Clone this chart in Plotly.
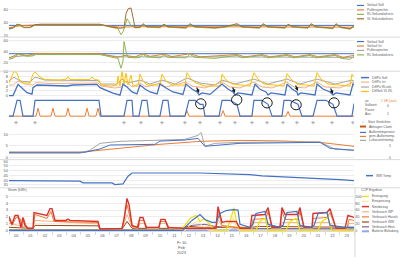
import plotly.graph_objects as go

# ======================= DATA (hours of the day, values) =======================
# Panel 1 - temperatures
p1_soll_h = [0, 24]
p1_soll = [35.9, 35.9]
p1_puffer_h = [0, 0.77, 1.81, 6.33, 7.72, 8.77, 13.29, 17.43, 21.63, 24.0]
p1_puffer = [32.3, 35.4, 36.6, 36.6, 33.1, 33.8, 33.8, 33.5, 33.1, 33.1]
p1_rl_h = [0, 0.28, 0.56, 0.77, 1.04, 1.46, 1.81, 2.16, 6.33, 7.03,
           7.58, 7.79, 7.93, 8.07, 8.21, 8.35, 8.49, 8.77, 9.11, 9.32,
           9.60, 10.50, 10.78, 11.06, 12.31, 12.59, 12.94, 14.33, 15.03, 15.86,
           16.21, 17.43, 17.67, 18.02, 19.20, 19.41, 19.76, 20.80, 21.01, 21.36,
           22.54, 22.75, 23.10, 23.72, 24.0]
p1_rl = [30.0, 31.5, 36.2, 35.4, 32.3, 32.3, 36.2, 36.9, 36.9, 33.1,
         30.8, 21.5, 26.2, 33.8, 46.2, 41.5, 35.4, 32.3, 32.3, 36.9,
         33.1, 32.3, 36.9, 33.1, 31.5, 36.9, 33.1, 31.5, 33.1, 36.9,
         33.1, 31.5, 36.9, 33.1, 31.5, 36.9, 33.1, 31.5, 36.9, 33.1,
         30.8, 36.9, 32.3, 30.0, 33.8]
p1_vl_h = [0, 0.28, 0.56, 0.77, 1.04, 1.46, 1.81, 2.16, 6.33, 7.03,
           7.72, 8.0, 8.14, 8.28, 8.49, 8.63, 8.77, 9.11, 9.32, 9.60,
           10.50, 10.78, 11.06, 12.31, 12.59, 12.94, 14.33, 15.03, 15.86, 16.21,
           17.43, 17.67, 18.02, 19.20, 19.41, 19.76, 20.80, 21.01, 21.36, 22.54,
           22.75, 23.10, 23.72, 24.0]
p1_vl = [30.8, 32.3, 37.7, 36.9, 33.1, 33.1, 36.9, 37.7, 37.7, 33.8,
         31.5, 32.3, 53.8, 61.5, 63.1, 44.6, 32.3, 33.1, 38.5, 33.8,
         33.1, 37.7, 33.8, 32.3, 38.5, 33.8, 32.3, 33.8, 38.5, 33.8,
         32.3, 38.5, 33.8, 32.3, 37.7, 33.8, 32.3, 38.5, 33.8, 31.5,
         38.5, 33.1, 30.8, 35.4]

# Panel 2 - temperatures
p2_soll_h = [0, 24]
p2_soll = [35.8, 35.8]
p2_ist_h = [0, 0.63, 1.25, 1.88, 6.33, 7.58, 8.07, 8.77, 9.32, 9.81,
            10.78, 11.34, 12.59, 13.29, 15.86, 16.42, 17.60, 18.16, 19.34, 19.90,
            20.94, 21.50, 22.68, 23.23, 24.0]
p2_ist = [27.3, 35.5, 32.7, 36.4, 35.8, 29.1, 32.7, 30.0, 35.8, 30.9,
          34.9, 30.5, 35.8, 30.0, 34.2, 30.0, 34.2, 30.0, 34.2, 30.0,
          34.2, 30.0, 34.2, 29.1, 32.7]
p2_puffer_h = [0, 1.88, 6.33, 7.72, 13.29, 24.0]
p2_puffer = [29.1, 34.2, 34.2, 30.0, 30.0, 29.1]
p2_rl_h = [0, 0.28, 0.63, 0.90, 1.25, 1.67, 1.88, 2.50, 6.33, 7.03,
           7.58, 7.79, 7.93, 8.0, 8.14, 8.28, 8.77, 9.11, 9.32, 9.60,
           10.50, 10.78, 11.06, 12.31, 12.59, 12.94, 14.33, 15.86, 16.21, 17.60,
           18.02, 19.34, 19.76, 20.94, 21.36, 22.68, 23.10, 23.72, 24.0]
p2_rl = [25.5, 27.3, 34.5, 32.7, 30.9, 31.8, 35.1, 34.5, 34.5, 30.0,
         27.3, 9.1, 21.8, 58.2, 40.0, 29.1, 28.2, 29.1, 34.5, 30.0,
         28.2, 33.6, 29.1, 28.2, 34.5, 29.1, 27.3, 32.7, 28.2, 32.7,
         28.2, 32.7, 28.2, 32.7, 28.2, 32.7, 27.3, 25.5, 30.9]

# Panel 3 - differences
p3_soll_h = [0, 0.28, 0.63, 0.90, 1.25, 1.60, 1.67, 1.95, 2.85, 4.03,
             4.45, 5.63, 6.12, 6.33, 6.82, 7.23, 7.72, 7.93, 8.21, 8.56,
             8.90, 9.11, 9.46, 9.81, 10.30, 10.50, 10.92, 11.41, 12.10, 12.31,
             12.73, 13.08, 13.22, 13.43, 13.98, 14.82, 15.23, 15.58, 15.72, 15.93,
             16.90, 17.11, 17.43, 17.88, 18.02, 18.23, 19.20, 19.34, 19.69, 20.03,
             20.10, 20.31, 21.29, 21.43, 21.84, 22.33, 22.54, 22.75, 23.72, 23.93,
             24.0]
p3_soll = [0, 0, 4.75, 3.33, 1.25, 0.58, 3.33, 4.46, 4.33, 4.04,
           4.46, 4.46, 4.75, 3.33, 1.96, 1.0, 0.17, 4.88, 3.63, 1.54,
           0.71, 4.46, 2.79, 1.54, 0.71, 4.88, 3.21, 1.54, 0.5, 4.88,
           2.79, 1.54, 0.29, 1.13, 0.5, 4.88, 2.79, 1.54, 0.29, 1.13,
           0.29, 4.88, 2.79, 1.54, 0.29, 1.13, 0.29, 4.88, 2.79, 1.54,
           0.29, 1.13, 0.29, 4.88, 2.79, 1.54, 0.29, 1.13, 0.29, 4.88,
           4.46]
p3_ist_h = [0, 0.28, 0.63, 1.11, 1.67, 1.88, 2.85, 4.24, 6.19, 6.40,
            7.37, 7.86, 8.14, 8.56, 9.11, 9.53, 10.50, 10.92, 12.31, 12.73,
            13.63, 14.82, 15.37, 16.07, 17.04, 17.60, 18.30, 19.34, 19.83, 20.59,
            21.43, 21.98, 23.03, 23.93, 24.0]
p3_ist = [4.46, 4.46, 6.13, 4.88, 4.46, 5.5, 5.08, 5.08, 5.29, 4.04,
          3.21, 3.63, 6.13, 3.63, 5.29, 3.63, 5.29, 3.63, 5.71, 4.04,
          3.21, 5.71, 3.63, 3.21, 5.71, 3.63, 3.21, 5.71, 3.63, 3.21,
          5.71, 3.63, 3.21, 5.71, 5.29]
p3_rlsek_h = [0, 0.35, 0.77, 1.46, 1.81, 2.50, 6.19, 6.40, 7.51, 7.86,
              8.28, 9.11, 9.81, 10.64, 11.55, 12.38, 13.29, 14.33, 14.82, 15.72,
              17.04, 18.02, 19.34, 20.24, 21.43, 22.68, 23.86, 24.0]
p3_rlsek = [6.13, 7.79, 6.13, 5.71, 7.79, 6.54, 6.33, 4.88, 4.88, 6.96,
            5.29, 6.54, 4.88, 6.54, 4.88, 7.38, 5.29, 4.46, 6.54, 4.88,
            6.96, 4.88, 6.96, 4.88, 6.96, 4.88, 6.54, 6.13]
p3_sek_h = [0, 0.21, 0.35, 0.56, 0.70, 0.97, 1.46, 1.67, 1.81, 2.16,
            2.50, 3.55, 3.97, 4.10, 4.24, 5.63, 5.77, 5.98, 6.26, 6.40,
            7.03, 7.51, 7.58, 7.72, 7.86, 8.00, 8.14, 8.28, 8.49, 8.63,
            8.97, 9.11, 9.32, 9.60, 10.50, 10.64, 10.92, 11.34, 12.24, 12.38,
            12.66, 13.01, 13.63, 14.68, 14.82, 15.10, 15.51, 16.77, 17.04, 17.32,
            17.74, 19.13, 19.34, 19.62, 20.03, 21.22, 21.43, 21.70, 22.19, 23.72,
            23.86, 24.0]
p3_sek = [5.29, 8.21, 10.29, 9.46, 6.96, 5.29, 5.29, 9.04, 9.88, 7.79,
          6.75, 6.54, 6.96, 8.0, 6.75, 6.75, 7.79, 6.75, 6.54, 4.46,
          4.04, 4.46, 8.21, 4.04, 10.29, 4.88, 9.46, 4.46, 8.63, 4.04,
          4.04, 9.04, 6.13, 4.46, 4.46, 9.04, 6.13, 4.46, 4.46, 9.67,
          6.96, 5.29, 4.04, 4.04, 9.04, 6.54, 4.88, 4.04, 9.67, 6.96,
          4.88, 4.04, 9.25, 6.96, 4.88, 4.04, 9.67, 6.96, 4.88, 4.04,
          9.04, 7.79]

# Panel 3b - status signals
status_h = [0, 0.28, 0.56, 0.77, 0.97, 1.67, 1.81, 6.26, 6.40, 8.0,
            8.21, 8.56, 8.63, 9.04, 9.25, 9.60, 9.74, 10.50, 10.71, 11.06,
            11.20, 12.24, 12.52, 12.94, 13.29, 13.50, 13.63, 14.61, 14.82, 15.37,
            15.86, 16.07, 16.90, 17.04, 17.60, 18.02, 18.30, 18.99, 19.13, 19.55,
            20.10, 20.38, 21.15, 21.43, 22.05, 22.54, 22.82, 23.86, 24.0]
status_wp = [0, 0, 1, 1, 0, 0, 1, 1, 0, 0,
             1, 1, 0, 0, 1, 1, 0, 0, 1, 1,
             0, 0, 1, 1, 0.75, 0.75, 0, 0, 1, 1,
             0.75, 0, 0, 1, 1, 0.75, 0, 0, 1, 1,
             0.75, 0, 0, 1, 1, 0.75, 0, 0, 0.8]
abtau_h = [0, 1.88, 2.02, 2.16, 2.92, 3.06, 3.20, 3.96, 4.10, 4.24,
           5.29, 5.43, 5.57, 6.05, 6.19, 6.33, 12.24, 12.38, 12.52, 14.75,
           14.89, 15.03, 19.27, 19.41, 19.55, 24.0]
abtau = [0, 0, 0.5, 0, 0, 0.5, 0, 0, 0.5, 0,
         0, 0.5, 0, 0, 0.5, 0, 0, 0.35, 0, 0,
         0.35, 0, 0, 0.3, 0, 0]
circle_h = [13.34, 15.84, 17.95, 19.97, 22.61]
circle_v = [0.78, 1.03, 0.84, 0.72, 0.84]
arrow_h = [13.22, 15.72, 20.10, 22.54]
arrow_v = [1.13, 1.13, 1.96, 0.71]

# Panel 4 - outside temperatures
start_h = [0.49, 1.81, 8.0, 9.18, 10.64, 12.24, 13.29, 14.68, 15.72, 16.90,
           17.95, 19.06, 20.03, 21.15, 22.47, 23.93]
start_level = 15.2
gem_h = [0, 4.94, 7.72, 10.50, 13.29, 16.07, 18.85, 21.63, 24.0]
gem = [2.17, 2.17, 3.91, 5.65, 6.96, 7.39, 7.17, 6.52, 4.78]
aussen_h = [0, 5.29, 6.33, 7.03, 10.16, 10.50, 12.24, 13.15, 13.63, 14.33,
            16.07, 21.63, 22.33, 24.0]
aussen = [2.17, 2.17, 3.61, 5.35, 5.65, 7.09, 7.52, 8.26, 4.78, 5.22,
          6.09, 6.52, 3.91, 3.04]
luft_h = [0, 4.94, 5.63, 6.33, 7.72, 10.16, 12.24, 13.15, 13.36, 13.63,
          14.33, 16.07, 21.63, 22.68, 24.0]
luft = [1.74, 1.74, 3.04, 6.09, 6.96, 7.52, 7.83, 9.57, 10.87, 4.78,
        6.09, 6.52, 6.74, 3.48, 3.04]

# Panel 5 - hot water
ww_h = [0, 2.50, 2.64, 4.94, 5.15, 7.17, 7.37, 7.93, 8.28, 8.56,
        13.29, 16.77, 17.60, 20.94, 23.03, 24.0]
ww = [39.48, 39.48, 38.85, 38.85, 37.08, 37.08, 35.31, 36.04, 44.06, 47.5,
      47.5, 45.73, 44.38, 42.29, 40.52, 39.48]

# Panel 6 - energy
erz_h = [0, 11.90, 12.24, 12.59, 13.01, 13.29, 13.57, 13.98, 14.26, 15.10,
         15.37, 15.65, 15.86, 16.14, 17.18, 17.43, 17.81, 18.02, 19.27, 19.55,
         19.97, 20.24, 21.50, 21.77, 22.19, 22.47, 24.0]
erz = [0, 0, 0.73, 1.75, 2.19, 1.31, 1.75, 0.88, 0, 0,
       1.31, 3.36, 0.88, 0, 0, 1.31, 1.75, 0, 0, 1.31,
       1.75, 0, 0, 1.31, 1.90, 0, 0]
einsp_h = [0, 12.24, 12.73, 13.15, 13.57, 13.9, 15.3, 15.58, 15.86, 16.0, 24.0]
einsp = [0, 0, 1.02, 1.31, 0.44, 0, 0, 1.90, 0.29, 0, 0]
netz_h = [0, 0.21, 0.42, 0.63, 0.83, 0.97, 1.11, 1.32, 1.67, 1.74,
          2.64, 2.85, 2.99, 3.20, 3.97, 4.10, 4.24, 6.05, 6.19, 6.33,
          7.86, 8.0, 8.21, 8.35, 8.56, 8.97, 9.11, 9.32, 9.53, 10.43,
          10.57, 10.85, 11.06, 12.03, 14.40, 14.54, 14.82, 15.10, 15.80, 16.07,
          16.77, 16.90, 17.81, 18.02, 18.30, 18.85, 18.99, 19.20, 20.10, 20.24,
          20.52, 21.08, 21.15, 22.12, 22.33, 22.75, 23.37, 23.58, 24.0]
netz = [2.04, 0.88, 2.19, 2.19, 0.44, 1.90, 0.73, 0.29, 0.29, 2.63,
        2.19, 3.21, 3.21, 1.46, 1.46, 1.65, 1.46, 1.39, 1.31, 0.19,
        0.29, 1.61, 4.72, 3.80, 0.73, 0.44, 1.90, 1.90, 0.44, 0.44,
        1.61, 1.61, 0.44, 0.29, 0.29, 3.50, 1.17, 1.31, 1.31, 0.29,
        0.29, 2.19, 2.34, 3.36, 0.44, 0.44, 3.36, 2.34, 2.34, 3.36,
        0.44, 0.44, 2.48, 2.63, 3.21, 0.29, 0.29, 2.19, 1.90]
vwp_h = [0, 1.67, 1.81, 6.19, 6.33, 7.86, 8.21, 8.56, 8.97, 9.11,
         9.46, 9.60, 10.43, 10.50, 10.92, 11.13, 14.40, 14.54, 14.82, 16.07,
         16.90, 16.97, 18.02, 18.30, 18.92, 18.99, 20.10, 20.52, 21.08, 21.15,
         22.33, 22.75, 23.58, 23.65, 24.0]
vwp = [1.02, 0.29, 1.46, 0.95, 0.18, 0.22, 2.34, 0.44, 0.29, 1.02,
       1.02, 0.29, 0.29, 1.02, 1.02, 0.29, 0.22, 1.61, 0.58, 0.22,
       0.22, 1.17, 1.17, 0.22, 0.22, 1.17, 1.17, 0.22, 0.22, 1.17,
       1.17, 0.22, 0.22, 1.02, 1.02]
vhaus_h = [0, 0.21, 0.49, 0.77, 0.90, 1.04, 1.25, 1.67, 1.81, 2.64,
           2.92, 3.13, 6.19, 6.33, 7.86, 8.21, 8.56, 8.90, 9.04, 9.39,
           9.60, 10.43, 10.50, 10.92, 11.13, 12.03, 14.40, 14.54, 14.82, 16.07,
           16.84, 16.97, 17.88, 18.02, 18.30, 18.85, 18.99, 19.20, 20.10, 20.24,
           20.52, 21.08, 21.15, 22.12, 22.33, 22.75, 23.51, 23.65, 24.0]
vhaus = [1.61, 0.73, 1.90, 1.75, 0.44, 1.61, 0.29, 0.29, 2.34, 1.75,
         2.77, 1.31, 1.17, 0.22, 0.29, 3.80, 0.58, 0.44, 1.46, 1.46,
         0.44, 0.44, 1.31, 1.31, 0.44, 0.36, 0.36, 2.77, 0.73, 0.36,
         0.36, 1.61, 1.75, 2.77, 0.36, 0.36, 2.77, 1.61, 1.61, 2.77,
         0.36, 0.36, 1.75, 1.90, 2.63, 0.29, 0.29, 1.61, 1.46]
vww_h = [0, 1.67, 1.81, 6.19, 6.33, 7.86, 8.21, 8.56, 12.03, 12.59, 13.29, 16.77, 17.43, 20.24, 24.0]
vww = [0.44, 0.29, 0.73, 0.66, 0.15, 0.15, 1.31, 0.29, 0.29, 0.58, 0.44, 0.44, 0.58, 0.51, 0.44]
vheiz_h = [0, 11.2, 11.90, 12.73, 13.63, 14.33, 16.07, 24.0]
vheiz = [0.07, 0.07, 0.29, 0.73, 0.88, 0.58, 0.29, 0.22]
batt_h = [0, 24]
batt = [0, 0]
soc_h = [0, 12.10, 12.31, 12.73, 13.29, 13.63, 14.12, 14.40, 14.68, 15.10,
         15.58, 15.93, 16.07, 16.77, 16.97, 17.18, 17.81, 18.02, 18.85, 19.06,
         19.34, 20.03, 20.24, 21.01, 21.22, 21.50, 22.12, 22.33, 23.37, 24.0]
soc = [0, 0, 11.7, 29.2, 46.7, 32.1, 23.4, 23.4, 49.6, 58.4,
       61.3, 59.9, 17.5, 8.8, 17.5, 49.6, 55.5, 17.5, 8.8, 14.6,
       52.6, 55.5, 14.6, 8.8, 14.6, 49.6, 52.6, 14.6, 8.8, 8.8]

hour_labels = ["%02d" % i for i in range(24)]
date_labels = ["Fr 10.", "Feb", "2023"]

# ======================= STYLE / LAYOUT =======================
W, H = 400, 258
X0, X1 = 9, 354
FONT = "Liberation Sans"
TXT = "#595959"
GRID = "#ededed"
SEP = "#d9d9d9"
BLUE = "#4472C4"
ORANGE = "#ED7D31"
GRAY = "#A5A5A5"
GREEN = "#8CB650"
BROWN = "#A86B2D"
GOLD = "#FFC000"
LEGFONT = 3.3


def px_x(p):
    return p / W


def px_y(p):
    return 1 - p / H


fig = go.Figure()


def line(xs, ys, color, xa, ya, width=1.0, yaxis=None):
    fig.add_trace(go.Scatter(x=xs, y=ys, mode="lines", xaxis=xa, yaxis=yaxis or ya,
                             line=dict(color=color, width=width), hoverinfo="skip"))


# Panel 1 (x2/y2)
line(p1_soll_h, p1_soll, BLUE, "x2", "y2")
line(p1_puffer_h, p1_puffer, ORANGE, "x2", "y2")
line(p1_rl_h, p1_rl, GREEN, "x2", "y2")
line(p1_vl_h, p1_vl, BROWN, "x2", "y2")
# Panel 2 (x3/y3)
line(p2_soll_h, p2_soll, BLUE, "x3", "y3")
line(p2_puffer_h, p2_puffer, GRAY, "x3", "y3")
line(p2_ist_h, p2_ist, "#D4883A", "x3", "y3")
line(p2_rl_h, p2_rl, GREEN, "x3", "y3")
# Panel 3 (x4/y4)
line(p3_rlsek_h, p3_rlsek, GRAY, "x4", "y4")
line(p3_ist_h, p3_ist, "#F4B183", "x4", "y4")
line(p3_sek_h, p3_sek, GOLD, "x4", "y4")
line(p3_soll_h, p3_soll, BLUE, "x4", "y4", 1.3)
# Panel 3b (x5/y5)
line(abtau_h, abtau, ORANGE, "x5", "y5")
line(status_h, status_wp, BLUE, "x5", "y5", 1.2)
# Panel 4 (x6/y6)
line(gem_h, gem, ORANGE, "x6", "y6")
line(luft_h, luft, GRAY, "x6", "y6")
line(aussen_h, aussen, BLUE, "x6", "y6")
fig.add_trace(go.Scatter(x=start_h, y=[start_level] * len(start_h), mode="markers",
                         xaxis="x6", yaxis="y6", hoverinfo="skip",
                         marker=dict(symbol="cross-thin", size=2.5, color="#9a9a9a",
                                     line=dict(color="#9a9a9a", width=0.8))))
# Panel 5 (x7/y7)
line(ww_h, ww, BLUE, "x7", "y7", 1.2)
# Panel 6 (x/y)
line(batt_h, batt, "#8FAADC", "x", "y", 2.2)
line(vheiz_h, vheiz, "#7F6084", "x", "y")
line(vww_h, vww, "#9E480E", "x", "y")
line(einsp_h, einsp, "#FFE699", "x", "y")
line(vwp_h, vwp, "#F4B183", "x", "y")
line(vhaus_h, vhaus, ORANGE, "x", "y")
line(erz_h, erz, "#F2E200", "x", "y", 1.2)
line(soc_h, soc, BLUE, "x", "y", 1.2, yaxis="y8")
line(netz_h, netz, "#E0302A", "x", "y", 1.4)


def xax(anchor, **kw):
    d = dict(range=[0, 24], domain=[px_x(X0), px_x(X1)], anchor=anchor, showgrid=False,
             zeroline=False, showticklabels=False, ticks="", showline=False, fixedrange=True)
    d.update(kw)
    return d


def yax(anchor, top, bottom, rng, tickvals=None, grid=True, **kw):
    d = dict(domain=[px_y(bottom), px_y(top)], range=rng, anchor=anchor, zeroline=False,
             showline=False, ticks="", showgrid=grid, gridcolor=GRID, gridwidth=1,
             tickfont=dict(size=4, color=TXT, family=FONT), fixedrange=True)
    if tickvals is None:
        d["showticklabels"] = False
    else:
        d["tickvals"] = tickvals
    d.update(kw)
    return d


layout = dict(
    width=W, height=H, margin=dict(l=0, r=0, t=0, b=0),
    paper_bgcolor="white", plot_bgcolor="white", showlegend=False,
    font=dict(family=FONT, size=4, color=TXT),
    xaxis=xax("y", showticklabels=True, tickmode="array",
              tickvals=[i + 0.5 for i in range(24)], ticktext=hour_labels,
              tickfont=dict(size=4, color=TXT, family=FONT),
              showline=True, linecolor=SEP, linewidth=1,
              minor=dict(tickmode="array", tickvals=list(range(25)), ticks="outside",
                         ticklen=3, tickcolor=SEP)),
    xaxis2=xax("y2"), xaxis3=xax("y3"), xaxis4=xax("y4"), xaxis5=xax("y5"),
    xaxis6=xax("y6"), xaxis7=xax("y7"),
    yaxis2=yax("x2", 4, 35, [18.46, 66.15], [20, 40, 60]),
    yaxis3=yax("x3", 37, 70, [3.64, 63.64], [20, 40, 60]),
    yaxis4=yax("x4", 69.5, 96.5, [-0.75, 10.5], [0, 2, 4, 6, 8, 10]),
    yaxis5=yax("x5", 93, 118, [-0.156, 1.406], None, grid=False),
    yaxis6=yax("x6", 119, 159, [-0.87, 16.52], [0, 5, 10]),
    yaxis7=yax("x7", 160, 187, [32.92, 61.04], [35, 40, 45, 50, 55, 60]),
    yaxis=yax("x", 190, 232, [-0.146, 5.985], [0, 1, 2, 3, 4, 5]),
    yaxis8=dict(domain=[px_y(232), px_y(190)], range=[-2.92, 119.7], overlaying="y",
                side="right", anchor="x", showgrid=False, zeroline=False, ticks="",
                tickvals=[0, 20, 40, 60, 80, 100],
                tickfont=dict(size=4, color=TXT, family=FONT), fixedrange=True),
)

shapes = []
annotations = []

# chart borders / separators
for yy in [35.5, 70, 159.5, 188]:
    shapes.append(dict(type="line", xref="paper", yref="paper", x0=0, x1=1,
                       y0=px_y(yy), y1=px_y(yy), line=dict(color=SEP, width=1)))
shapes.append(dict(type="line", xref="paper", yref="paper", x0=px_x(355), x1=px_x(355),
                   y0=px_y(188), y1=0, line=dict(color=SEP, width=1)))

# hand-drawn circles in status panel
for ch, cv in zip(circle_h, circle_v):
    shapes.append(dict(type="circle", xref="x5", yref="y5", x0=ch - 0.36, x1=ch + 0.36,
                       y0=cv - 0.32, y1=cv + 0.32, line=dict(color="#1a1a1a", width=1)))
# arrows in difference panel
for ah, av in zip(arrow_h, arrow_v):
    annotations.append(dict(xref="x4", yref="y4", x=ah, y=av, text="", showarrow=True,
                            arrowhead=2, arrowsize=0.6, arrowwidth=1.2, arrowcolor="#1a1a1a",
                            ax=-3, ay=-7))


def text(xp, yp, s, color=TXT, anchor="left", size=LEGFONT):
    annotations.append(dict(xref="paper", yref="paper", x=px_x(xp), y=px_y(yp), text=s,
                            showarrow=False, xanchor=anchor, yanchor="middle",
                            font=dict(size=size, color=color, family=FONT), borderpad=0))


def legend(yp, s, color, x0, x1, xt, width=1.2):
    shapes.append(dict(type="line", xref="paper", yref="paper", x0=px_x(x0), x1=px_x(x1),
                       y0=px_y(yp), y1=px_y(yp), line=dict(color=color, width=width)))
    text(xt, yp, s)


# panel 1 legend
legend(3.5, "Vorlauf Soll", BLUE, 357, 364, 366)
legend(8, "Pufferspeicher", ORANGE, 357, 364, 366)
legend(12.5, "RL Sekundärkreis", GREEN, 357, 364, 366)
legend(17, "VL Sekundärkreis", BROWN, 357, 364, 366)
# panel 2 legend
legend(40, "Vorlauf Soll", BLUE, 357, 364, 366)
legend(44.5, "Vorlauf Ist", "#D4883A", 357, 364, 366)
legend(49, "Pufferspeicher", GRAY, 357, 364, 366)
legend(53.5, "RL Sekundärkreis", GREEN, 357, 364, 366)
# panel 3 legend
legend(76.5, "DiffPu Soll", BLUE, 361, 369, 371, 1.5)
legend(81, "DiffPu Ist", "#F4B183", 361, 369, 371)
legend(86, "DiffPu RLsek", GRAY, 361, 369, 371)
legend(90.5, "DiffSek VL RL", GOLD, 361, 369, 371)
# status labels
text(364, 100, "an")
text(364, 104.5, "Sollwert")
text(364, 109, "Pause")
text(364, 113.5, "Aus")
text(380, 100, "1 VE (aus)", color=ORANGE)
text(386, 105, "0")
text(386, 113.5, "1")
# panel 4 legend
text(361, 121.7, "+", color="#7F7F7F")
text(367, 121.7, "Start Verdichter")
legend(126, "Abtragen Claim", "#C55A11", 360, 366, 368, 2)
legend(132, "Außentemperatur", BLUE, 360, 366, 368)
legend(136, "gem. Außentemp.", ORANGE, 360, 366, 368)
legend(140, "Luftaustrittstemp.", GRAY, 360, 366, 368)
text(388, 146, "5")
text(388, 158, "0")
# panel 5 legend
legend(175.7, "WW Temp", BLUE, 366, 373, 375, 1.5)
# panel 6 titles & legend
text(7, 190.7, "Strom (kWh)")
text(360, 190.7, "COP Ergebnis")
legend(196.7, "Erzeugung", "#F2E200", 362, 369, 371)
legend(201.7, "Einspeisung", "#FFE699", 362, 369, 371)
legend(207, "Netzbezug", "#E0302A", 362, 369, 371, 1.5)
legend(212.2, "Verbrauch WP", "#F4B183", 362, 369, 371)
legend(217.4, "Verbrauch Haush.", ORANGE, 362, 369, 371)
legend(222.6, "Verbrauch WW", "#9E480E", 362, 369, 371)
legend(227.5, "Verbrauch Heiz.", "#7F6084", 362, 369, 371)
legend(232, "Batterie Beladung", "#8FAADC", 362, 369, 371, 2)
# date levels under hour axis
for i, s in enumerate(date_labels):
    text((X0 + X1) / 2, 243 + 5 * i, s, anchor="center", size=4)

layout["shapes"] = shapes
layout["annotations"] = annotations
fig.update_layout(**layout)
fig.write_html("out.html")
